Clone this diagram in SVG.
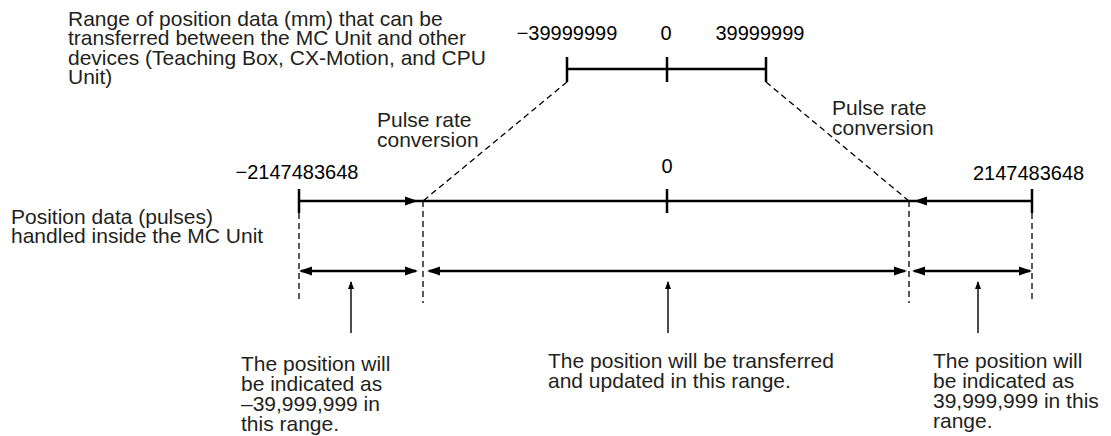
<svg xmlns="http://www.w3.org/2000/svg" width="1111" height="436" viewBox="0 0 1111 436">
<style>
.t{font-family:"Liberation Sans",Arial,Helvetica,sans-serif;font-size:21px;fill:#231f20}
.n{font-family:"Liberation Sans",Arial,Helvetica,sans-serif;font-size:20px;fill:#000}
.m{text-anchor:middle}
.thick{stroke:#000;stroke-width:2.5;fill:none}
.dash{stroke:#000;stroke-width:1.3;stroke-dasharray:6 4;fill:none}
.thin{stroke:#000;stroke-width:1.4;fill:none}
</style>
<defs>
<marker id="big" markerUnits="userSpaceOnUse" markerWidth="14" markerHeight="10" refX="11" refY="5" orient="auto-start-reverse">
<path d="M0,0.5 L13,5 L0,9.5 z" fill="#000"/>
</marker>
<marker id="small" markerUnits="userSpaceOnUse" markerWidth="9" markerHeight="8" refX="7" refY="4" orient="auto">
<path d="M0,1 L8,4 L0,7 z" fill="#000"/>
</marker>
</defs>
<rect width="1111" height="436" fill="#fff"/>

<g id="label-mm-range">
<text class="t" x="68" y="25.5">Range of position data (mm) that can be</text>
<text class="t" x="68" y="45">transferred between the MC Unit and other</text>
<text class="t" x="68" y="64.5">devices (Teaching Box, CX-Motion, and CPU</text>
<text class="t" x="68" y="84">Unit)</text>
</g>

<g id="mm-scale">
<text class="n m" x="567" y="40">−39999999</text>
<text class="n m" x="666" y="40">0</text>
<text class="n m" x="760" y="40">39999999</text>
<path class="thick" d="M567,69 H766 M567,57 V82 M667,57 V82 M766,57 V82"/>
</g>

<g id="label-pulse-left">
<text class="t" x="377" y="127">Pulse rate</text>
<text class="t" x="377" y="147">conversion</text>
</g>
<g id="label-pulse-right">
<text class="t" x="832" y="115">Pulse rate</text>
<text class="t" x="832" y="135">conversion</text>
</g>

<g id="label-pulses">
<text class="t" x="11" y="223.5">Position data (pulses)</text>
<text class="t" x="11" y="243">handled inside the MC Unit</text>
</g>

<g id="pulse-scale">
<text class="n m" x="297" y="179">−2147483648</text>
<text class="n m" x="667" y="173">0</text>
<text class="n" x="973" y="180">2147483648</text>
<path class="thick" d="M299,189 V213 M667,189 V213 M1032,189 V213"/>
</g>

<g id="label-left-range">
<text class="t" x="241" y="371">The position will</text>
<text class="t" x="241" y="391">be indicated as</text>
<text class="t" x="241" y="411">–39,999,999 in</text>
<text class="t" x="241" y="431">this range.</text>
</g>
<g id="label-center-range">
<text class="t" x="548" y="368">The position will be transferred</text>
<text class="t" x="548" y="388">and updated in this range.</text>
</g>
<g id="label-right-range">
<text class="t" x="933" y="368">The position will</text>
<text class="t" x="933" y="388">be indicated as</text>
<text class="t" x="933" y="408">39,999,999 in this</text>
<text class="t" x="933" y="428">range.</text>
</g>

<g id="connectors">
<path class="dash" d="M567,82 L423,201"/>
<path class="dash" d="M766,82 L909,201"/>
<path class="dash" d="M299,213 V303 M423,201 V303 M909,201 V303 M1032,213 V303"/>
<path class="thick" d="M299,201 H416" marker-end="url(#big)"/>
<path class="thick" d="M416,201 H916"/>
<path class="thick" d="M1032,201 H916" marker-end="url(#big)"/>
<path class="thick" d="M301,271 H416" marker-start="url(#big)" marker-end="url(#big)"/>
<path class="thick" d="M429,271 H905" marker-start="url(#big)" marker-end="url(#big)"/>
<path class="thick" d="M914,271 H1030" marker-start="url(#big)" marker-end="url(#big)"/>
<path class="thin" d="M351,333 V282" marker-end="url(#small)"/>
<path class="thin" d="M668,333 V282" marker-end="url(#small)"/>
<path class="thin" d="M978,333 V282" marker-end="url(#small)"/>
</g>
</svg>
